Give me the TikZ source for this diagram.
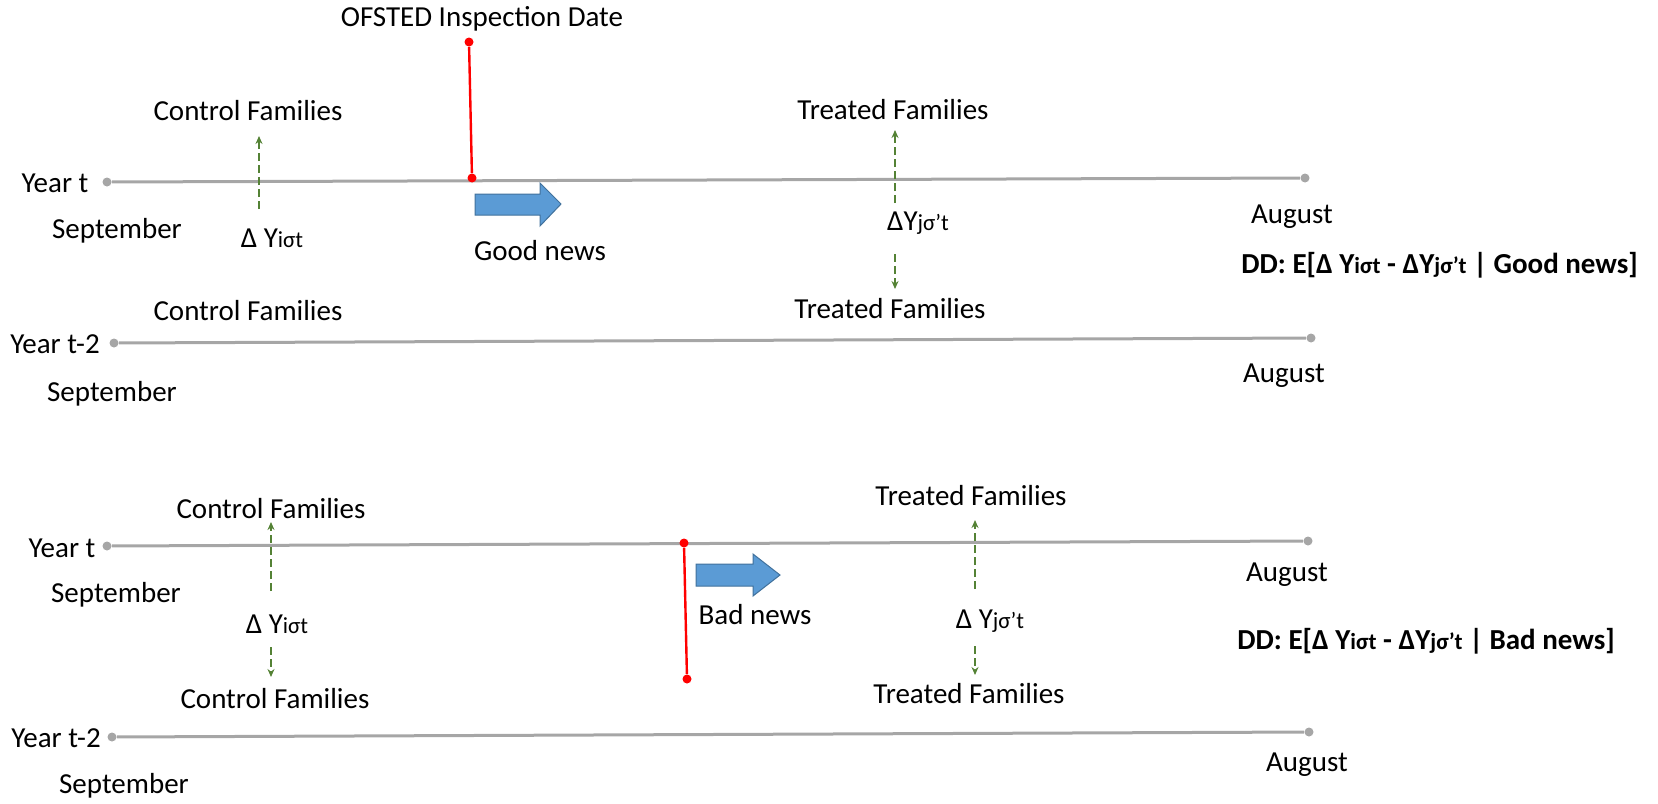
\documentclass[tikz,border=0pt]{standalone}
\usepackage{fontspec}
\setmainfont{Carlito}
\usetikzlibrary{arrows.meta}
\definecolor{lgrey}{RGB}{166,166,166}
\definecolor{dgreen}{RGB}{84,130,53}
\definecolor{nblue}{RGB}{91,155,213}
\definecolor{nblueb}{RGB}{65,113,156}
\newcommand\lowsub[1]{{\fontsize{11.5}{13}\selectfont #1}}
\begin{document}
\begin{tikzpicture}[x=0.5pt,y=-0.5pt,
 lbl/.style={font=\fontsize{14.5}{17}\selectfont, inner sep=0pt},
 ddl/.style={font=\fontsize{14.5}{17}\selectfont\bfseries, inner sep=0pt},
 tline/.style={draw=lgrey, line width=1.5pt},
 gdot/.style={circle, fill=lgrey, inner sep=0pt, minimum size=4.5pt},
 rdot/.style={circle, fill=red, inner sep=0pt, minimum size=4.5pt},
 insp/.style={draw=red, line width=1.2pt},
 garr/.style={draw=dgreen, line width=1pt, dash pattern=on 4pt off 2pt, -{Stealth[length=4pt,width=3.5pt]}},
 news/.style={fill=nblue, draw=nblueb, line width=0.5pt}
]
\useasboundingbox (0,0) rectangle (1658,803);
% ---------- Panel 1 ----------
\node[lbl] (ofsted) at (482,19) {OFSTED Inspection Date};
\node[lbl] (yt1) at (55,183) {Year t};
\node[lbl] (sep1) at (117,231) {September};
\node[lbl] (aug1) at (1292,217) {August};
\node[gdot] (a1s) at (107,182) {};
\node[gdot] (a1e) at (1305,178) {};
\draw[tline] (a1s) -- (a1e);
\node[rdot] (r1t) at (469,42) {};
\node[rdot] (r1b) at (472,178) {};
\draw[insp] (r1t) -- (r1b);
\node[lbl] (cf1) at (248,111) {Control Families};
\node[lbl] (dy1) at (272,238) {Δ Y\lowsub{iσt}};
\coordinate (g1a) at (259,209);
\coordinate (g1b) at (259,136);
\draw[garr] (g1a) -- (g1b);
\draw[news] (475,194) -- (540,194) -- (540,183) -- (561,204) -- (540,226) -- (540,215) -- (475,215) -- cycle;
\node[lbl] (gn) at (540,251) {Good news};
\node[lbl] (tf1) at (893,110) {Treated Families};
\node[lbl] (dj1) at (918,223) {ΔY\lowsub{jσ’t}};
\coordinate (g2a) at (895,203);
\coordinate (g2b) at (895,130);
\draw[garr] (g2a) -- (g2b);
\coordinate (g3a) at (895,254);
\coordinate (g3b) at (895,289);
\draw[garr] (g3a) -- (g3b);
\node[lbl] (tf2) at (890,309) {Treated Families};
\node[ddl, anchor=west] (dd1) at (1241,265) {DD: E[Δ Y\lowsub{iσt} - ΔY\lowsub{jσ’t} | Good news]};
\node[lbl] (cf2) at (248,311) {Control Families};
\node[lbl] (yt2) at (55,344) {Year t-2};
\node[gdot] (b1s) at (114,343) {};
\node[gdot] (b1e) at (1311,338) {};
\draw[tline] (b1s) -- (b1e);
\node[lbl] (sep2) at (112,394) {September};
\node[lbl] (aug2) at (1284,376) {August};
% ---------- Panel 2 ----------
\node[lbl] (cf3) at (271,509) {Control Families};
\node[lbl] (yt3) at (62,548) {Year t};
\node[gdot] (c1s) at (107,546) {};
\node[gdot] (c1e) at (1308,541) {};
\draw[tline] (c1s) -- (c1e);
\node[lbl] (sep3) at (116,595) {September};
\node[lbl] (aug3) at (1287,575) {August};
\coordinate (g4a) at (271,591);
\coordinate (g4b) at (271,522);
\draw[garr] (g4a) -- (g4b);
\node[lbl] (dy3) at (277,624) {Δ Y\lowsub{iσt}};
\coordinate (g5a) at (271,647);
\coordinate (g5b) at (271,677);
\draw[garr] (g5a) -- (g5b);
\node[lbl] (cf4) at (275,699) {Control Families};
\node[rdot] (r2t) at (684,543) {};
\node[rdot] (r2b) at (687,679) {};
\draw[insp] (r2t) -- (r2b);
\draw[news] (696,564) -- (753,564) -- (753,554) -- (780,575) -- (753,596) -- (753,586) -- (696,586) -- cycle;
\node[lbl] (bn) at (755,615) {Bad news};
\node[lbl] (tf3) at (971,496) {Treated Families};
\coordinate (g6a) at (975,589);
\coordinate (g6b) at (975,520);
\draw[garr] (g6a) -- (g6b);
\node[lbl] (dj3) at (990,621) {Δ Y\lowsub{jσ’t}};
\coordinate (g7a) at (975,646);
\coordinate (g7b) at (975,675);
\draw[garr] (g7a) -- (g7b);
\node[lbl] (tf4) at (969,694) {Treated Families};
\node[ddl, anchor=west] (dd2) at (1237,641) {DD: E[Δ Y\lowsub{iσt} - ΔY\lowsub{jσ’t} | Bad news]};
\node[lbl] (yt4) at (56,738) {Year t-2};
\node[gdot] (d1s) at (112,737) {};
\node[gdot] (d1e) at (1309,732) {};
\draw[tline] (d1s) -- (d1e);
\node[lbl] (sep4) at (124,786) {September};
\node[lbl] (aug4) at (1307,765) {August};
\end{tikzpicture}
\end{document}
